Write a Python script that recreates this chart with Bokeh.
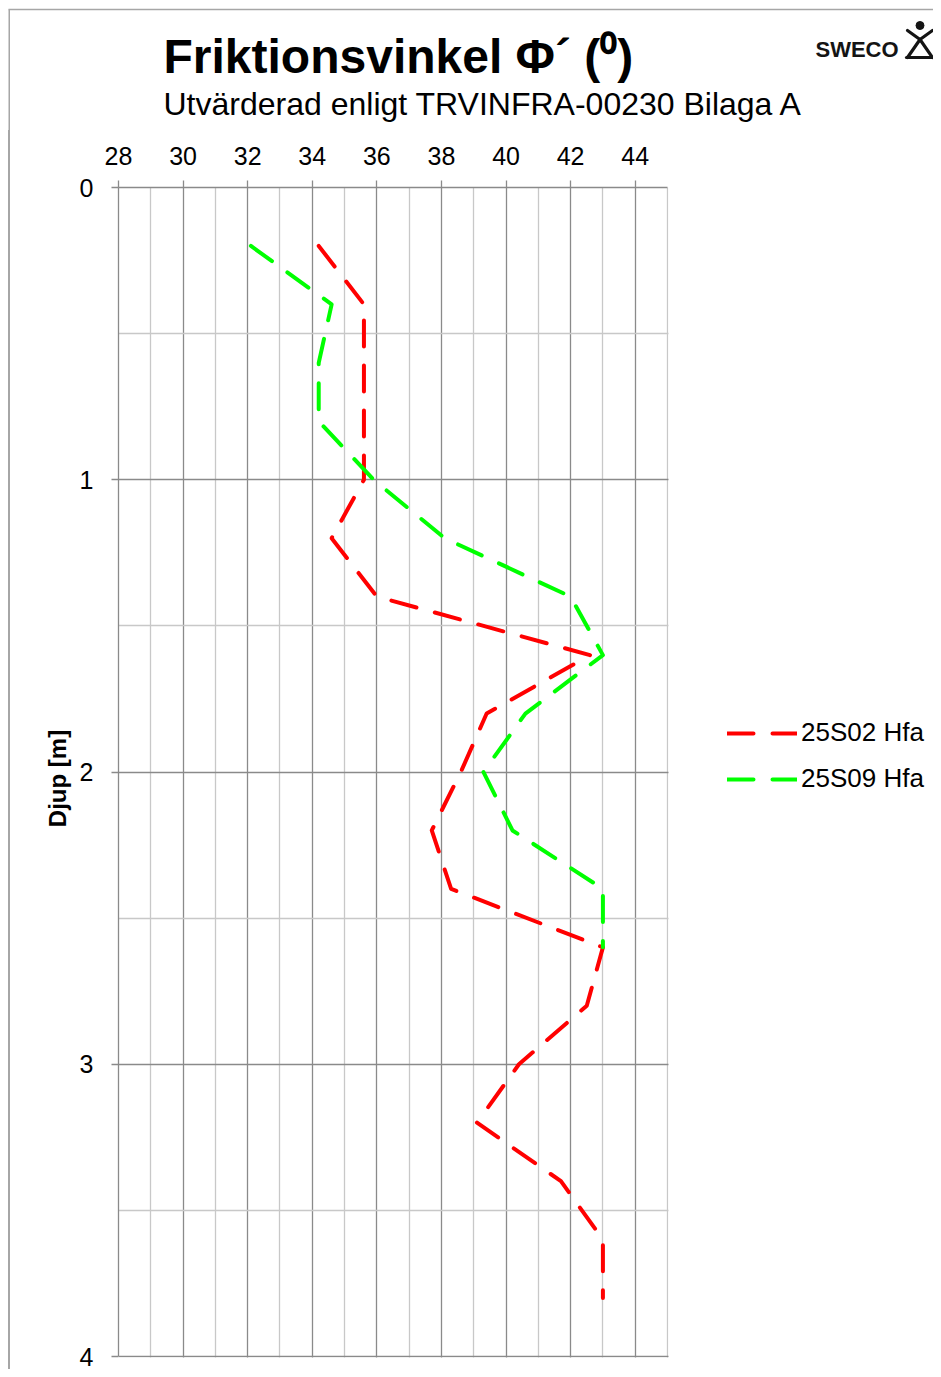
from bokeh.plotting import figure
from bokeh.models import Range1d, FixedTicker, Label, Legend, LegendItem, BoxAnnotation
from bokeh.embed import file_html
from bokeh.resources import INLINE

# ---------------- data ----------------
depth_25s02 = [0.2, 0.4, 0.6, 0.8, 1.0, 1.2, 1.4, 1.6, 1.8, 2.0, 2.2, 2.4, 2.6, 2.8, 3.0, 3.2, 3.4, 3.6, 3.8]
phi_25s02 = [34.2, 35.6, 35.6, 35.6, 35.6, 34.6, 36.0, 42.6, 39.4, 38.6, 37.7, 38.3, 43.0, 42.5, 40.4, 39.1, 41.7, 43.0, 43.0]
depth_25s09 = [0.2, 0.4, 0.6, 0.8, 1.0, 1.2, 1.4, 1.6, 1.8, 2.0, 2.2, 2.4, 2.6]
phi_25s09 = [32.1, 34.6, 34.2, 34.2, 35.9, 38.1, 42.0, 43.0, 40.6, 39.3, 40.2, 43.0, 43.0]
series_names = ["25S02 Hfa", "25S09 Hfa"]
x_ticks = [28, 30, 32, 34, 36, 38, 40, 42, 44]
x_minor = [29, 31, 33, 35, 37, 39, 41, 43, 45]
y_ticks = [0, 1, 2, 3, 4]
y_minor = [0.5, 1.5, 2.5, 3.5]
title_text = "Friktionsvinkel \u03a6\u00b4 (\u2070)"
subtitle_text = "Utv\u00e4rderad enligt TRVINFRA-00230 Bilaga A"
y_label = "Djup [m]"
logo_text = "SWECO"

# ---------------- layout ----------------
W = 933
TOTAL_H = 1369
HEAD_H = 130
FL, FT, FR, FB = 118, 187, 667, 1356   # chart edges in picture pixels
XMIN, XMAX, YMIN, YMAX = 28, 45, 0, 4
FONT = "Liberation Sans"
MAJOR = "#8a8a8a"
MINOR = "#c8c8c8"
BORDER = "#a6a6a6"
INK = "#141414"

# ---------- header (titles, logo, chart-area border) ----------
head = figure(width=W, height=HEAD_H, output_backend="svg", toolbar_location=None,
              x_range=Range1d(0, W), y_range=Range1d(HEAD_H, 0),
              min_border=0, background_fill_color="white", border_fill_color="white",
              outline_line_color=None)
head.axis.visible = False
head.grid.visible = False

head.segment(x0=[8, 8.75], y0=[9, 9], x1=[W, 8.75], y1=[9, HEAD_H],
             line_color=BORDER, line_width=1.5)

head.add_layout(Label(x=163, y=56, text=title_text, text_font=FONT,
                      text_font_size="48px", text_font_style="bold",
                      text_baseline="middle", text_align="left", text_color="black"))
head.add_layout(Label(x=163, y=103, text=subtitle_text, text_font=FONT,
                      text_font_size="32px", text_baseline="middle",
                      text_align="left", text_color="black"))
head.add_layout(Label(x=815, y=49, text=logo_text, text_font=FONT,
                      text_font_size="22px", text_font_style="bold",
                      text_baseline="middle", text_align="left", text_color=INK))
# logo symbol
head.segment(x0=[907, 932, 919.5, 919.5, 906], y0=[30, 30, 39, 39, 57],
             x1=[919.5, 919.5, 907, 932, 933], y1=[39, 39, 57, 57, 57],
             line_color=INK, line_width=3.2, line_cap="round")
head.scatter(x=[919.5], y=[25], size=8, color=INK)

# ---------- main chart ----------
MAIN_H = TOTAL_H - HEAD_H
px_per_x = (FR - FL) / (XMAX - XMIN)
px_per_y = (FB - FT) / (YMAX - YMIN)
x_end = XMIN + (W - FL) / px_per_x               # frame runs to the right edge
y_end = YMIN + (TOTAL_H - FT) / px_per_y         # frame runs to the bottom edge

p = figure(
    width=W, height=MAIN_H, output_backend="svg", toolbar_location=None,
    x_range=Range1d(XMIN, x_end), y_range=Range1d(y_end, YMIN),
    x_axis_location="above",
    min_border_left=FL, min_border_top=FT - HEAD_H,
    min_border_right=0, min_border_bottom=0,
    background_fill_color="white", border_fill_alpha=0,
    outline_line_color=None,
    styles={"background-image": "linear-gradient(90deg, #ffffff 0px, #ffffff 8px, "
                                f"{BORDER} 8px, {BORDER} 9.5px, #ffffff 9.5px)"},
)

xt = FixedTicker(ticks=x_ticks, minor_ticks=x_minor)
yt = FixedTicker(ticks=y_ticks, minor_ticks=y_minor)
for ax, t, b in ((p.xaxis[0], xt, (XMIN, XMAX)), (p.yaxis[0], yt, (YMIN, YMAX))):
    ax.ticker = t
    ax.bounds = b
    ax.axis_line_color = MAJOR
    ax.axis_line_width = 1.3
    ax.major_tick_line_color = MAJOR
    ax.major_tick_line_width = 1.3
    ax.major_tick_out = 7
    ax.major_tick_in = 0
    ax.minor_tick_out = 0
    ax.minor_tick_in = 0
    ax.major_label_text_font = FONT
    ax.major_label_text_font_size = "25px"
    ax.major_label_text_color = "black"
p.xaxis.major_label_standoff = 16
p.yaxis.major_label_standoff = 18
p.yaxis.axis_label = y_label
p.yaxis.axis_label_text_font = FONT
p.yaxis.axis_label_text_font_size = "24px"
p.yaxis.axis_label_text_font_style = "bold"
p.yaxis.axis_label_text_color = "black"
p.yaxis.axis_label_standoff = 6

p.xgrid.ticker = xt
p.ygrid.ticker = yt
for g in (p.xgrid[0], p.ygrid[0]):
    g.grid_line_color = MAJOR
    g.grid_line_width = 1.3
    g.minor_grid_line_color = MINOR
    g.minor_grid_line_width = 1.3

# blank out the grid outside the 28..45 x 0..4 chart area (legend zone / bottom strip)
eps_x = 1.0 / px_per_x
eps_y = 1.0 / px_per_y
p.add_layout(BoxAnnotation(left=XMAX + eps_x, right=x_end + 1, top=YMIN - 1, bottom=y_end + 1,
                           fill_color="white", fill_alpha=1, line_color=None))
p.add_layout(BoxAnnotation(left=XMIN - 1, right=x_end + 1, top=YMAX + eps_y, bottom=y_end + 1,
                           fill_color="white", fill_alpha=1, line_color=None))

r1 = p.line(phi_25s02, depth_25s02, line_color="#ff0000", line_width=4,
            line_dash="26 19", line_cap="round", line_join="round")
r2 = p.line(phi_25s09, depth_25s09, line_color="#00ff00", line_width=4,
            line_dash="26 19", line_cap="round", line_join="round")

legend = Legend(
    items=[LegendItem(label=series_names[0], renderers=[r1]),
           LegendItem(label=series_names[1], renderers=[r2])],
    location=(727 - FL, TOTAL_H - 794),
    orientation="vertical",
    padding=0, margin=0, spacing=15,
    glyph_width=70, glyph_height=30, label_height=30, label_standoff=4,
    label_text_font=FONT, label_text_font_size="26px", label_text_color="black",
    border_line_color=None, background_fill_alpha=0,
)
p.add_layout(legend)

open("out.html", "w").write(file_html([head, p], INLINE))
